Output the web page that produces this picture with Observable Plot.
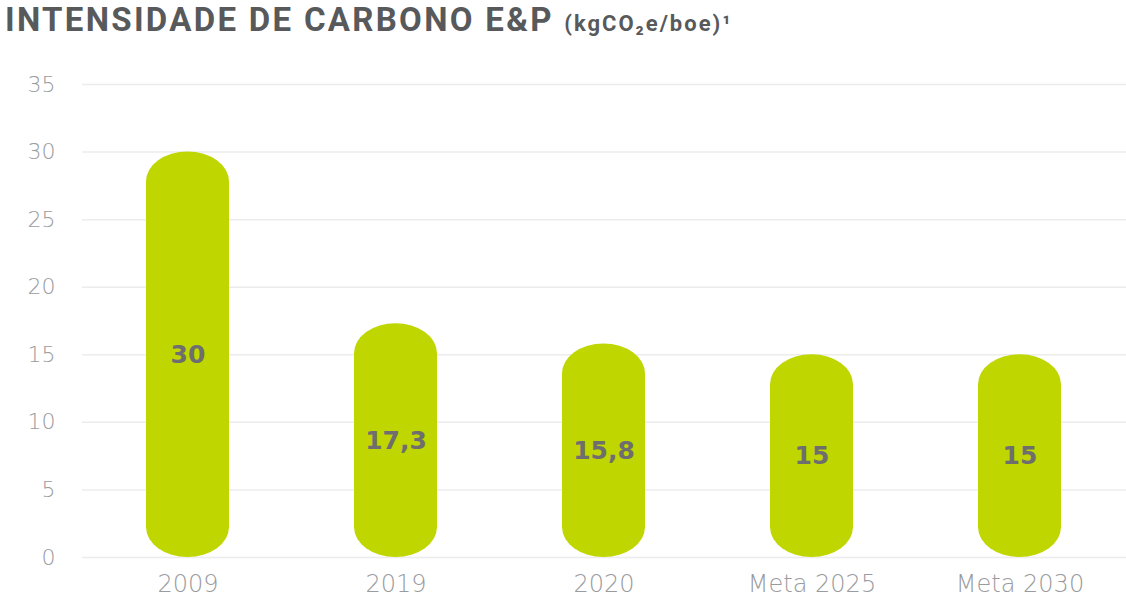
<!DOCTYPE html>
<html>
<head>
<meta charset="utf-8">
<script src="https://cdn.jsdelivr.net/npm/d3@7"></script>
<script src="https://cdn.jsdelivr.net/npm/@observablehq/plot@0.6"></script>
<style>
  body { margin: 0; background: #fff; font-family: Roboto, sans-serif; }
  #title { height: 50px; margin: 0; padding: 0 0 0 5px; box-sizing: border-box; line-height: 39px;
           font-family: Roboto, sans-serif; font-size: 33px; font-weight: 700; color: #58595b;
           letter-spacing: 2.3px; white-space: nowrap; }
  #title .unit { font-size: 22px; font-weight: 700; letter-spacing: 2px; }
  #chart svg { display: block; }
</style>
</head>
<body>
<div id="title">INTENSIDADE DE CARBONO E&amp;P <span class="unit">(kgCO₂e/boe)¹</span></div>
<div id="chart"></div>
<script>
const categories = ["2009", "2019", "2020", "Meta 2025", "Meta 2030"];
const values = [30, 17.3, 15.8, 15, 15];
const labels = ["30", "17,3", "15,8", "15", "15"];
const yTicks = [0, 5, 10, 15, 20, 25, 30, 35];

const data = categories.map((c, i) => ({ cat: c, value: values[i], label: labels[i] }));

const chart = Plot.plot({
  width: 1126,
  height: 551,
  marginTop: 34,
  marginBottom: 44,
  marginLeft: 82,
  marginRight: 0,
  style: { fontFamily: "DejaVu Sans, sans-serif", background: "#fff" },
  x: { domain: categories, paddingInner: 0.6, paddingOuter: 0.3, label: null },
  y: { domain: [0, 35], label: null },
  marks: [
    Plot.ruleY(yTicks, { stroke: "#ececec", strokeWidth: 1.5 }),
    Plot.axisY({ ticks: yTicks, tickSize: 0, tickPadding: 27, fontSize: 22, fill: "#999b9e", fontWeight: 200, letterSpacing: 1.5, label: null }),
    Plot.axisX({ tickSize: 0, tickPadding: 17, fontSize: 24, fill: "#999b9e", fontWeight: 200, letterSpacing: 1.8, label: null }),
    Plot.barY(data, { x: "cat", y: "value", fill: "#bfd600", rx: 42, ry: 30 }),
    Plot.text(data, { x: "cat", y: d => d.value / 2, text: "label", fill: "#6e6e6e", fontSize: 25, fontWeight: "bold", letterSpacing: 1 })
  ]
});
document.getElementById("chart").appendChild(chart);
</script>
</body>
</html>
